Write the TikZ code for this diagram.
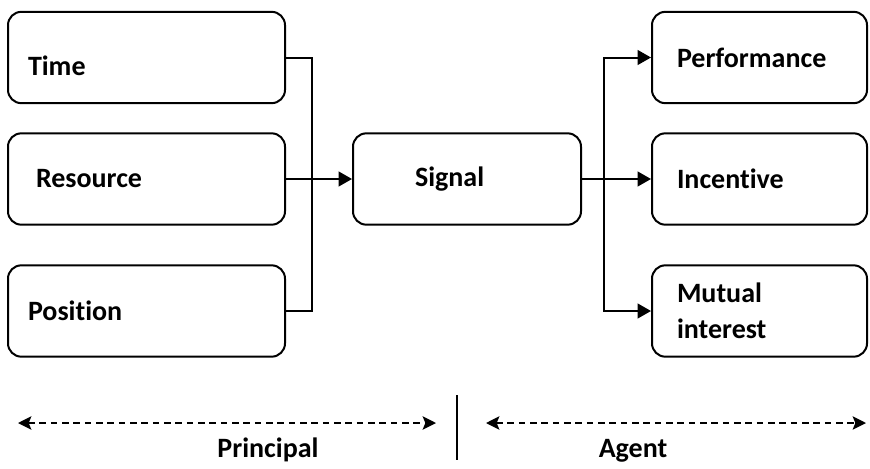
\documentclass[tikz,border=0pt]{standalone}
\usepackage{fontspec}
\setmainfont{Carlito}[Ligatures=NoCommon]
\usetikzlibrary{arrows.meta}

\tikzset{
  box/.style={draw, line width=1.5pt, rounded corners=10pt, align=left,
    minimum height=68.5pt, inner ysep=0pt, font=\fontsize{21}{27}\selectfont\bfseries},
  lbox/.style={box, text width=177.75pt, inner xsep=15pt},
  rbox/.style={box, text width=123.75pt, inner xsep=18.75pt},
  link/.style={line width=1.5pt},
  flow/.style={link, -{Triangle[length=10pt,width=11pt]}},
  side/.style={line width=1.5pt, dash pattern=on 5pt off 3.5pt,
    {Stealth[length=10pt,width=10pt,inset=2pt]}-{Stealth[length=10pt,width=10pt,inset=2pt]}},
  tag/.style={anchor=base, font=\fontsize{21}{27}\selectfont\bfseries},
}

\begin{document}
\begin{tikzpicture}[x=0.75pt,y=0.75pt,yscale=-1,xscale=1]
\useasboundingbox (0,0) rectangle (870,468);

% Principal side boxes
\node[lbox] (time) at (146.5,57.5) {\raisebox{-6pt}[\height][\depth]{Time}};
\node[lbox] (resource) at (146.5,179) {\hspace*{6pt}Resource};
\node[lbox] (position) at (146.5,311) {Position};

% Signal
\node[box, text width=78pt, inner xsep=46.5pt] (signal) at (467,179) {Signal};

% Agent side boxes
\node[rbox] (performance) at (759.5,57.5) {Performance};
\node[rbox] (incentive) at (759.5,179) {Incentive};
\node[rbox] (mutual) at (759.5,311) {Mutual\\interest};

% left bus into signal
\coordinate (lbus) at (312,179);
\draw[link] (time.east) -| (lbus) |- (position.east);
\draw[flow] (resource.east) -- (signal.west);

% right bus out of signal
\coordinate (rbus) at (604,179);
\draw[flow] (signal.east) -- (incentive.west);
\draw[flow] (rbus) |- (performance.west);
\draw[flow] (rbus) |- (mutual.west);

% Bottom ranges
\coordinate (pl) at (18,423);
\coordinate (pr) at (436,423);
\coordinate (al) at (486,423);
\coordinate (ar) at (866,423);
\draw[side] (pl) -- (pr);
\draw[side] (al) -- (ar);

\coordinate (dtop) at (457,395);
\coordinate (dbot) at (457,460);
\draw[link] (dtop) -- (dbot);

% Text Node
\node[tag] (principal) at (268,457) {Principal};
% Text Node
\node[tag] (agent) at (633,457) {Agent};

\end{tikzpicture}
\end{document}
